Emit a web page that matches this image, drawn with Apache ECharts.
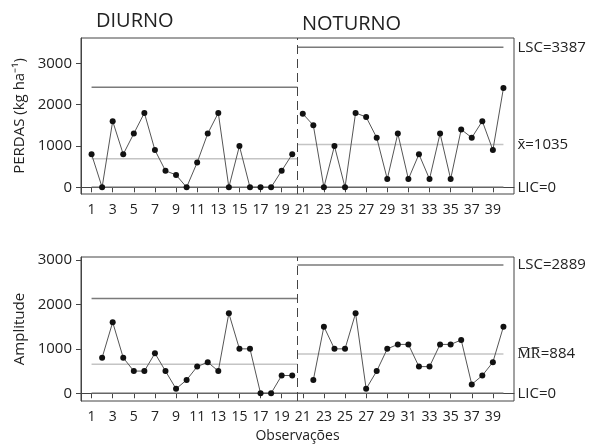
<!DOCTYPE html>
<html><head><meta charset="utf-8">
<script src="https://cdn.jsdelivr.net/npm/echarts@6/dist/echarts.min.js"></script>
<style>html,body{margin:0;padding:0;background:#fff}#c{width:596px;height:444px}</style>
</head><body><div id="c"></div>
<script>
// Observações 1..20 (Diurno) e 21..40 (Noturno)
const perdasDiurno = [800, 0, 1600, 800, 1300, 1800, 900, 400, 300, 0, 600, 1300, 1800, 0, 1000, 0, 0, 0, 400, 800];
const perdasNoturno = [1780, 1500, 0, 1000, 0, 1800, 1700, 1200, 200, 1300, 200, 800, 200, 1300, 200, 1400, 1200, 1600, 900, 2400];
const mrDiurno = [null, 800, 1600, 800, 500, 500, 900, 500, 100, 300, 600, 700, 500, 1800, 1000, 1000, 0, 0, 400, 400];
const mrNoturno = [null, 300, 1500, 1000, 1000, 1800, 100, 500, 1000, 1100, 1100, 600, 600, 1100, 1100, 1200, 200, 400, 700, 1500];
// limites [Diurno, Noturno]
const perdasLSC = [2420, 3387];
const perdasMedia = [690, 1035];
const perdasLIC = [0, 0];
const mrLSC = [2135, 2889];
const mrMedia = [654, 884];
const mrLIC = [0, 0];
const xTicks = [1,3,5,7,9,11,13,15,17,19,21,23,25,27,29,31,33,35,37,39];
const yTicks = [0, 1000, 2000, 3000];
const stageLabels = ['DIURNO', 'NOTURNO'];

const chart = echarts.init(document.getElementById('c'), null, {renderer: 'canvas'});
const FONT = 'Open Sans';
const TXT = '#222';

function pts(arr, offset) { return arr.map((v, i) => [i + offset, v]); }
function dataSeries(arr, offset, gi) {
  return {
    type: 'line', xAxisIndex: gi, yAxisIndex: gi, data: pts(arr, offset),
    symbol: 'circle', symbolSize: 6, showSymbol: true, connectNulls: false,
    lineStyle: {color: '#555', width: 1}, itemStyle: {color: '#111'}, z: 5, silent: true
  };
}
function limitSeries(val, stage, gi, color, labelText) {
  const x0 = stage === 0 ? 1 : 20.5;
  const x1 = stage === 0 ? 20.5 : 40;
  const s = {
    type: 'line', xAxisIndex: gi, yAxisIndex: gi, data: [[x0, val], [x1, val]],
    symbol: 'none', lineStyle: {color: color, width: 1.5}, silent: true, z: 2
  };
  if (labelText) {
    s.endLabel = {show: true, formatter: labelText, distance: 14, color: TXT, fontSize: 15, fontFamily: FONT};
  }
  return s;
}
function limits(lsc, media, lic, gi, names) {
  const out = [];
  for (let st = 0; st < 2; st++) {
    out.push(limitSeries(lsc[st], st, gi, '#7a7a7a', st === 1 ? names[0] + lsc[st] : null));
    out.push(limitSeries(media[st], st, gi, '#c4c4c4', st === 1 ? names[1] + media[st] : null));
    out.push(limitSeries(lic[st], st, gi, '#666', st === 1 ? names[2] + lic[st] : null));
  }
  return out;
}
function xAxis(gi, extra) {
  return Object.assign({
    gridIndex: gi, type: 'value', min: 0, max: 41,
    axisLine: {show: true, lineStyle: {color: '#444', width: 1}},
    axisTick: {show: true, customValues: xTicks, length: 5, lineStyle: {color: '#444'}},
    axisLabel: {customValues: xTicks, fontSize: 14, color: TXT, fontFamily: FONT, margin: 9,
      formatter: v => String(v)},
    splitLine: {show: false}
  }, extra || {});
}
function yAxis(gi, min, max, name) {
  return {
    gridIndex: gi, type: 'value', min: min, max: max,
    name: name, nameLocation: 'middle', nameGap: 52,
    nameTextStyle: {fontSize: 15, color: TXT, fontFamily: FONT},
    axisLine: {show: true, lineStyle: {color: '#444', width: 1}},
    axisTick: {show: true, customValues: yTicks, length: 5, lineStyle: {color: '#444'}},
    axisLabel: {customValues: yTicks, fontSize: 15, color: TXT, fontFamily: FONT, margin: 9,
      formatter: v => String(v)},
    splitLine: {show: false}
  };
}

const topDiurno = dataSeries(perdasDiurno, 1, 0);
topDiurno.markLine = {silent: true, symbol: ['none', 'none'], label: {show: false},
  lineStyle: {type: [9, 5], color: '#444', width: 1}, data: [{xAxis: 20.5}], animation: false};
const botDiurno = dataSeries(mrDiurno, 1, 1);
botDiurno.markLine = {silent: true, symbol: ['none', 'none'], label: {show: false},
  lineStyle: {type: [9, 5], color: '#444', width: 1}, data: [{xAxis: 20.5}], animation: false};

chart.setOption({
  animation: false,
  textStyle: {fontFamily: FONT},
  title: [
    {text: stageLabels[0], left: 96, top: 11, padding: 0, textStyle: {fontSize: 20, fontWeight: 'normal', color: TXT, fontFamily: FONT}},
    {text: stageLabels[1], left: 302, top: 14, padding: 0, textStyle: {fontSize: 20, fontWeight: 'normal', color: TXT, fontFamily: FONT}}
  ],
  grid: [
    {left: 81, right: 82, top: 38, height: 156, show: true, borderColor: '#444', borderWidth: 1, backgroundColor: 'transparent'},
    {left: 81, right: 82, top: 257, height: 144, show: true, borderColor: '#444', borderWidth: 1, backgroundColor: 'transparent'}
  ],
  xAxis: [xAxis(0), xAxis(1, {name: 'Observações', nameLocation: 'middle', nameGap: 28,
    nameTextStyle: {fontSize: 14, color: TXT, fontFamily: FONT}})],
  yAxis: [yAxis(0, -162, 3612, 'PERDAS (kg ha⁻¹)'), yAxis(1, -174, 3068, 'Amplitude')],
  series: [
    topDiurno, dataSeries(perdasNoturno, 21, 0),
    ...limits(perdasLSC, perdasMedia, perdasLIC, 0, ['LSC=', 'x̄=', 'LIC=']),
    botDiurno, dataSeries(mrNoturno, 21, 1),
    ...limits(mrLSC, mrMedia, mrLIC, 1, ['LSC=', 'M̅R̅=', 'LIC='])
  ]
});
</script></body></html>
